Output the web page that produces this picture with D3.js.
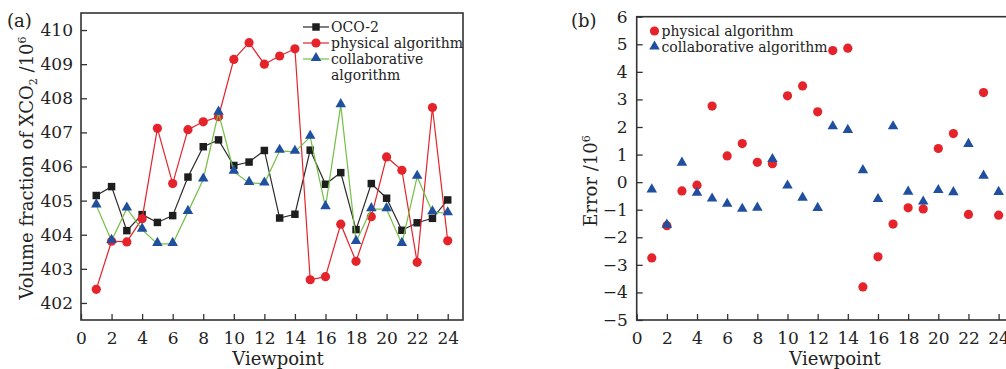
<!DOCTYPE html>
<html>
<head>
<meta charset="utf-8">
<script src="https://cdn.jsdelivr.net/npm/d3@7"></script>
<style>
  body { margin: 0; background: #fff; }
  svg text { font-family: 'DejaVu Serif', serif; fill: #222; }
</style>
</head>
<body>
<svg id="chart" width="1006" height="369"></svg>
<script>
// viewpoints 1..24
const viewpoints = d3.range(1, 25);

// panel (a): XCO2 volume fraction /10^6
const oco2 = [405.15, 405.41, 404.12, 404.59, 404.36, 404.56, 405.69, 406.58, 406.78, 406.03, 406.13, 406.47,
  404.49, 404.6, 406.48, 405.48, 405.82, 404.15, 405.5, 405.07, 404.13, 404.35, 404.48, 405.02];
const physical = [402.4, 403.81, 403.79, 404.47, 407.12, 405.5, 407.08, 407.31, 407.46, 409.14, 409.63, 409.0,
  409.24, 409.45, 402.68, 402.77, 404.31, 403.22, 404.53, 406.28, 405.89, 403.19, 407.73, 403.82];
const collaborative = [404.86, 403.82, 404.77, 404.15, 403.73, 403.73, 404.67, 405.62, 407.58, 405.85, 405.52, 405.5,
  406.46, 406.43, 406.87, 404.81, 407.8, 403.79, 404.75, 404.75, 403.73, 405.7, 404.66, 404.63];

// panel (b): error /10^6
const physicalError = [-2.75, -1.58, -0.32, -0.11, 2.76, 0.95, 1.4, 0.72, 0.67, 3.13, 3.49, 2.55,
  4.77, 4.86, -3.8, -2.71, -1.52, -0.93, -0.97, 1.22, 1.76, -1.17, 3.25, -1.2];
const collaborativeError = [-0.3, -1.58, 0.67, -0.42, -0.63, -0.82, -1.0, -0.96, 0.8, -0.16, -0.6, -0.97,
  1.99, 1.86, 0.4, -0.65, 1.99, -0.38, -0.74, -0.32, -0.4, 1.35, 0.2, -0.39];

const xTicks = d3.range(0, 25, 2);
const yTicksA = d3.range(402, 411);
const yTicksB = d3.range(-5, 7);

const RED = '#e5232b';
const BLUE = '#1f4f9e';
const GREEN = '#74bf45';
const DARK = '#333';

const svg = d3.select('#chart');

const triangle = d3.symbol().type(d3.symbolTriangle).size(48);
const square = d3.symbol().type(d3.symbolSquare).size(56);

function drawFrame(g, x, y, yTicks, yPad) {
  const [x0, x1] = x.range();
  const [y0, y1] = y.range();

  g.append('g')
    .attr('transform', `translate(0,${y0})`)
    .call(d3.axisBottom(x).tickValues(xTicks).tickSizeInner(-6).tickSizeOuter(0).tickPadding(12))
    .call((a) => a.select('.domain').remove())
    .call((a) => a.selectAll('line').attr('stroke', DARK).attr('stroke-width', 1.3))
    .call((a) => a.selectAll('text').attr('font-size', 17).attr('font-family', 'DejaVu Serif').attr('fill', '#222'));

  g.append('g')
    .attr('transform', `translate(${x0},0)`)
    .call(d3.axisLeft(y).tickValues(yTicks).tickSizeInner(-6).tickSizeOuter(0).tickPadding(yPad))
    .call((a) => a.select('.domain').remove())
    .call((a) => a.selectAll('line').attr('stroke', DARK).attr('stroke-width', 1.3))
    .call((a) => a.selectAll('text').attr('font-size', 17).attr('font-family', 'DejaVu Serif').attr('fill', '#222'));

  g.append('rect')
    .attr('x', x0)
    .attr('y', y1)
    .attr('width', x1 - x0)
    .attr('height', y0 - y1)
    .attr('fill', 'none')
    .attr('stroke', DARK)
    .attr('stroke-width', 1.6);
}

// ---------- panel (a) ----------
const xA = d3.scaleLinear().domain([0, 25]).range([81, 463]);
const yA = d3.scaleLinear().domain([401.5, 410.5]).range([320, 13]);
const gA = svg.append('g');

drawFrame(gA, xA, yA, yTicksA, 8);

const seriesA = [
  { name: 'OCO-2', values: oco2, stroke: '#2a2a2a', fill: '#1e1e1e', shape: 'square' },
  { name: 'physical algorithm', values: physical, stroke: RED, fill: RED, shape: 'circle' },
  { name: 'collaborative algorithm', values: collaborative, stroke: GREEN, fill: BLUE, shape: 'triangle' },
];

const lineA = d3.line()
  .x((d, i) => xA(viewpoints[i]))
  .y((d) => yA(d));

function drawMarker(sel, shape, fill) {
  if (shape === 'circle') {
    sel.append('circle').attr('r', 4.6).attr('fill', fill);
  } else if (shape === 'square') {
    sel.append('path').attr('d', square).attr('fill', fill);
  } else {
    sel.append('path').attr('d', triangle).attr('fill', fill).attr('transform', 'translate(0,-1)');
  }
}

seriesA.forEach((s) => {
  gA.append('path')
    .datum(s.values)
    .attr('d', lineA)
    .attr('fill', 'none')
    .attr('stroke', s.stroke)
    .attr('stroke-width', 1.2);

  gA.selectAll(null)
    .data(s.values)
    .join('g')
    .attr('transform', (d, i) => `translate(${xA(viewpoints[i])},${yA(d)})`)
    .each(function () { drawMarker(d3.select(this), s.shape, s.fill); });
});

// legend (a)
const legA = gA.append('g').attr('transform', 'translate(303,27)');
const legRowsA = [
  { s: seriesA[0], y: 0 },
  { s: seriesA[1], y: 16 },
  { s: seriesA[2], y: 32 },
];
legRowsA.forEach(({ s, y }) => {
  legA.append('line')
    .attr('x1', 0).attr('x2', 26)
    .attr('y1', y).attr('y2', y)
    .attr('stroke', s.stroke)
    .attr('stroke-width', 1.2);
  const m = legA.append('g').attr('transform', `translate(13,${y})`);
  drawMarker(m, s.shape, s.fill);
});
legA.append('text').attr('x', 28).attr('y', 5).attr('font-size', 14).text('OCO-2');
legA.append('text').attr('x', 28).attr('y', 21).attr('font-size', 14).text('physical algorithm');
legA.append('text').attr('x', 28).attr('y', 37).attr('font-size', 14).text('collaborative');
legA.append('text').attr('x', 28).attr('y', 53).attr('font-size', 14).text('algorithm');

gA.append('text').attr('x', 7).attr('y', 27).attr('font-size', 18).text('(a)');

gA.append('text')
  .attr('x', 278)
  .attr('y', 365)
  .attr('text-anchor', 'middle')
  .attr('font-size', 18)
  .text('Viewpoint');

const ylabA = gA.append('text')
  .attr('transform', 'translate(33,168) rotate(-90)')
  .attr('text-anchor', 'middle')
  .attr('font-size', 18);
ylabA.append('tspan').text('Volume fraction of XCO');
ylabA.append('tspan').attr('font-size', 11).attr('dy', 4).text('2');
ylabA.append('tspan').attr('dy', -4).text(' /10');
ylabA.append('tspan').attr('font-size', 11).attr('dy', -7).text('6');

// ---------- panel (b) ----------
const xB = d3.scaleLinear().domain([0, 25]).range([636.7, 1013.7]);
const yB = d3.scaleLinear().domain([-5, 6]).range([320, 16.7]);
const gB = svg.append('g');

drawFrame(gB, xB, yB, yTicksB, 9);

gB.selectAll(null)
  .data(physicalError)
  .join('circle')
  .attr('cx', (d, i) => xB(viewpoints[i]))
  .attr('cy', (d) => yB(d))
  .attr('r', 4.6)
  .attr('fill', RED);

gB.selectAll(null)
  .data(collaborativeError)
  .join('path')
  .attr('d', triangle)
  .attr('transform', (d, i) => `translate(${xB(viewpoints[i])},${yB(d) - 1})`)
  .attr('fill', BLUE);

// legend (b)
const legB = gB.append('g').attr('transform', 'translate(654.5,31)');
legB.append('circle').attr('r', 4.6).attr('fill', RED);
legB.append('path').attr('d', triangle).attr('fill', BLUE).attr('transform', 'translate(0,15.5)');
legB.append('text').attr('x', 7).attr('y', 5).attr('font-size', 14).text('physical algorithm');
legB.append('text').attr('x', 7).attr('y', 21).attr('font-size', 14).text('collaborative algorithm');

gB.append('text').attr('x', 571).attr('y', 27).attr('font-size', 18).text('(b)');

gB.append('text')
  .attr('x', 835)
  .attr('y', 365)
  .attr('text-anchor', 'middle')
  .attr('font-size', 18)
  .text('Viewpoint');

const ylabB = gB.append('text')
  .attr('transform', 'translate(597,181) rotate(-90)')
  .attr('text-anchor', 'middle')
  .attr('font-size', 18);
ylabB.append('tspan').text('Error /10');
ylabB.append('tspan').attr('font-size', 11).attr('dy', -7).text('6');
</script>
</body>
</html>
